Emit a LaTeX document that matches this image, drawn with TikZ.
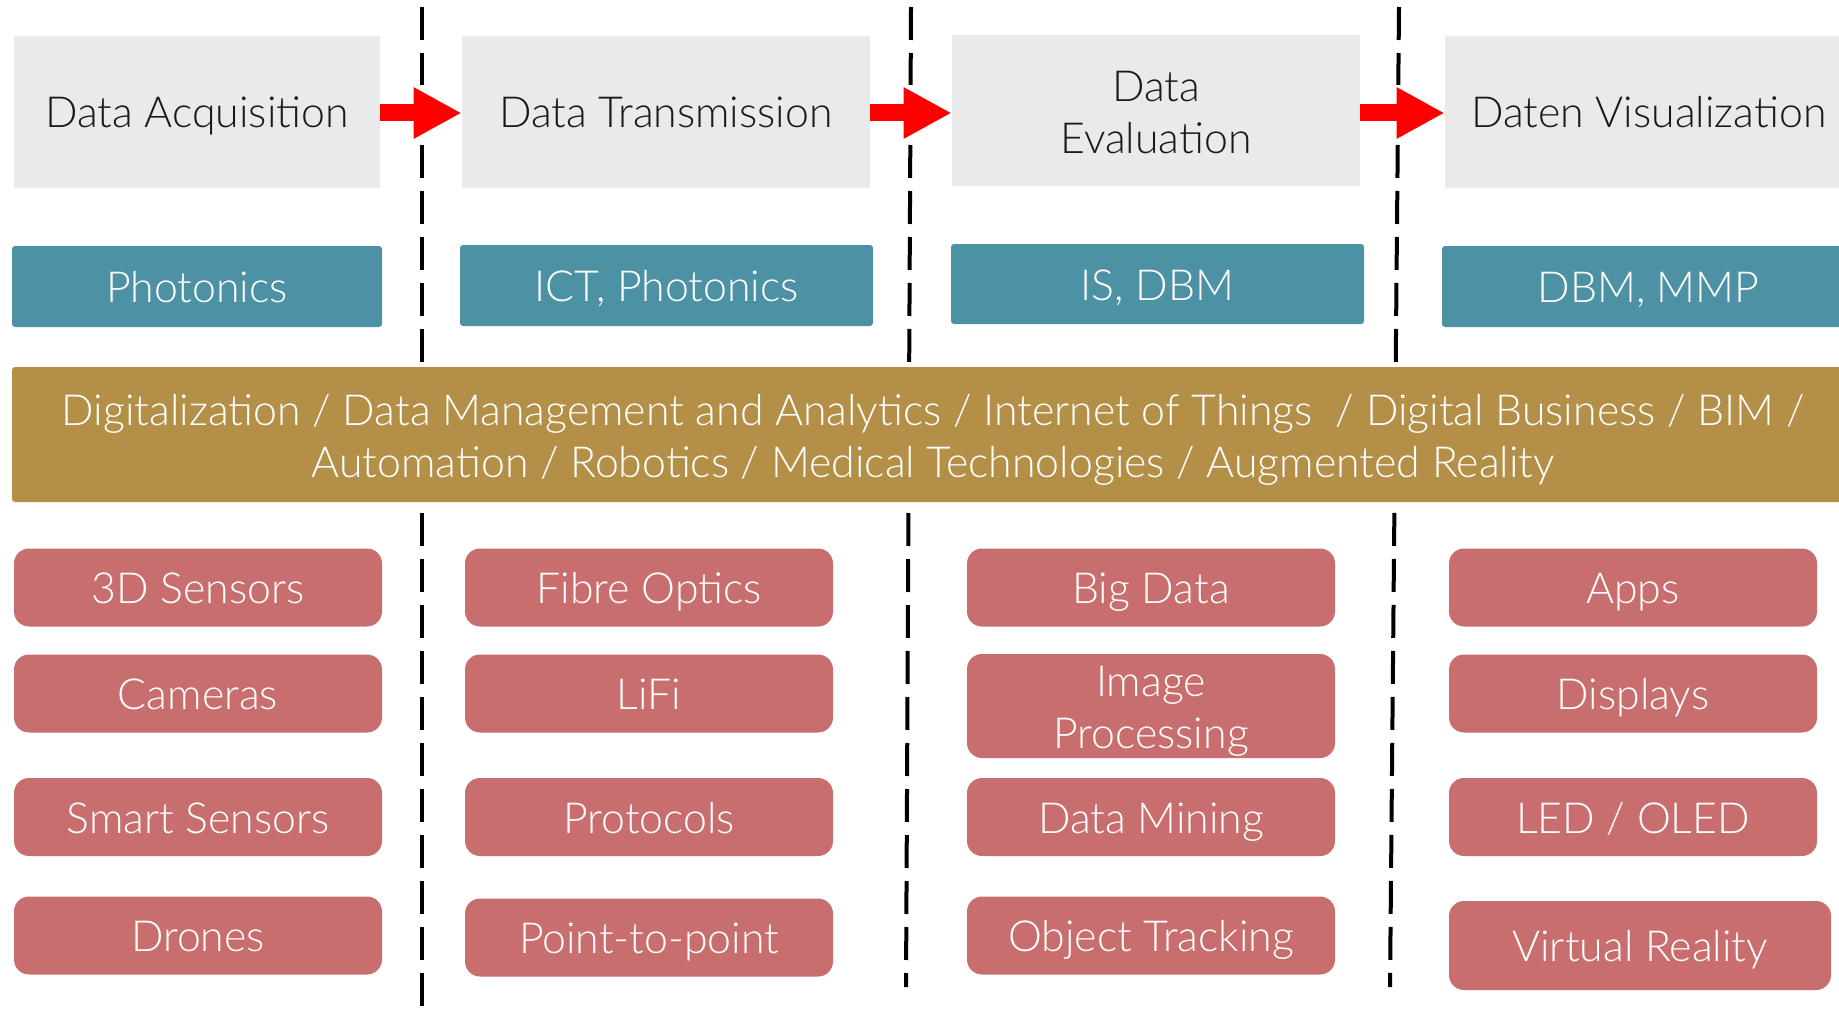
\documentclass[tikz,border=0pt]{standalone}
\usepackage{fontspec}
\IfFontExistsTF{Lato Light}{\setmainfont{Lato Light}}{\setmainfont{Lato}}
\usetikzlibrary{arrows.meta}
\definecolor{boxgray}{HTML}{EAEAEA}
\definecolor{techteal}{HTML}{4D92A4}
\definecolor{bandgold}{HTML}{B38F48}
\definecolor{rosered}{HTML}{C86E6E}
\newcommand{\capstrut}{\rule[-5pt]{0pt}{26pt}}
\tikzset{
  basefont/.style={font=\fontsize{21.4}{26}\selectfont,
    execute at begin node=\capstrut, execute at end node=\capstrut},
  twotext/.style={basefont, align=center, inner sep=0pt, yshift=-3.2pt},
  phase/.style={basefont, fill=boxgray, text=black!90, inner sep=0pt, align=center,
    minimum width=204pt, minimum height=76pt},
  disc/.style={basefont, fill=techteal, text=white, rounded corners=1.5pt, inner sep=0pt,
    align=center, minimum width=206.5pt, minimum height=40.5pt},
  band/.style={basefont, fill=bandgold, text=white, rounded corners=1.5pt, inner sep=0pt,
    align=center, minimum width=921pt, minimum height=67.5pt},
  tech/.style={basefont, fill=rosered, text=white, rounded corners=7.5pt, inner sep=0pt,
    align=center, minimum width=184pt, minimum height=39pt},
  flow/.style={red, line width=8.5pt, -{Triangle[length=24pt,width=24pt]}},
  divider/.style={line width=2pt, dash pattern=on 16.5pt off 6.5pt},
}
\begin{document}
\begin{tikzpicture}[x=0.5pt, y=-0.5pt]
\useasboundingbox (0,0) rectangle (1839,1016);
% dividers
\coordinate (l1a) at (422,7);   \coordinate (l1b) at (422,1016);
\coordinate (l2a) at (911,7);   \coordinate (l2b) at (906,987);
\coordinate (l3a) at (1399,7);  \coordinate (l3b) at (1390,987);
\draw[divider] (l1a) -- (l1b);
\draw[divider] (l2a) -- (l2b);
\draw[divider] (l3a) -- (l3b);
% phases
\node[phase, minimum width=183pt] (da) at (197,112) {Data Acquisition};
\node[phase] (dt) at (666,112) {Data Transmission};
\node[phase, minimum height=75.5pt,
  label={[twotext, text=black!90]center:Data\\Evaluation}] (de) at (1156,110.5) {};
\node[phase] (dv) at (1649,112) {Daten Visualization};
% white gaps behind arrows
\fill[white] (380,85) rectangle (462,144);
\fill[white] (870,85) rectangle (952,144);
\fill[white] (1360,85) rectangle (1445,144);
\draw[flow] ([yshift=-0.5pt]da.east) -- ([yshift=-0.5pt]da.east -| dt.west);
\draw[flow] ([yshift=-0.5pt]dt.east) -- ([yshift=-0.5pt]dt.east -| de.west);
\draw[flow] ([yshift=-0.5pt]dv.west -| de.east) -- ([yshift=-0.5pt]dv.west);
% disciplines
\node[disc, minimum width=185pt] (t1) at (197,286.5) {Photonics};
\node[disc] (t2) at (666.5,285.5) {ICT, Photonics};
\node[disc, minimum height=40pt] (t3) at (1157.5,284) {IS, DBM};
\node[disc] (t4) at (1648.5,286.5) {DBM, MMP};
% band
\node[band, label={[twotext, text=white]center:Digitalization / Data Management and Analytics / Internet of Things \ / Digital Business / BIM /\\Automation / Robotics / Medical Technologies / Augmented Reality}] (bd) at (933,434.5) {};
% technologies
\node[tech] (a1) at (198,587.5) {3D Sensors};
\node[tech] (a2) at (198,693.5) {Cameras};
\node[tech] (a3) at (198,817) {Smart Sensors};
\node[tech] (a4) at (198,935.5) {Drones};
\node[tech] (b1) at (649,587.5) {Fibre Optics};
\node[tech] (b2) at (649,693.5) {LiFi};
\node[tech] (b3) at (649,817) {Protocols};
\node[tech] (b4) at (649,937.5) {Point-to-point};
\node[tech] (c1) at (1151,587.5) {Big Data};
\node[tech, minimum height=52pt,
  label={[twotext, text=white]center:Image\\Processing}] (c2) at (1151,706) {};
\node[tech] (c3) at (1151,817) {Data Mining};
\node[tech] (c4) at (1151,935.5) {Object Tracking};
\node[tech] (d1) at (1633,587.5) {Apps};
\node[tech] (d2) at (1633,693.5) {Displays};
\node[tech] (d3) at (1633,817) {LED / OLED};
\node[tech, minimum width=191pt, minimum height=44.5pt] (d4) at (1640,945.5) {Virtual Reality};
\end{tikzpicture}
\end{document}
